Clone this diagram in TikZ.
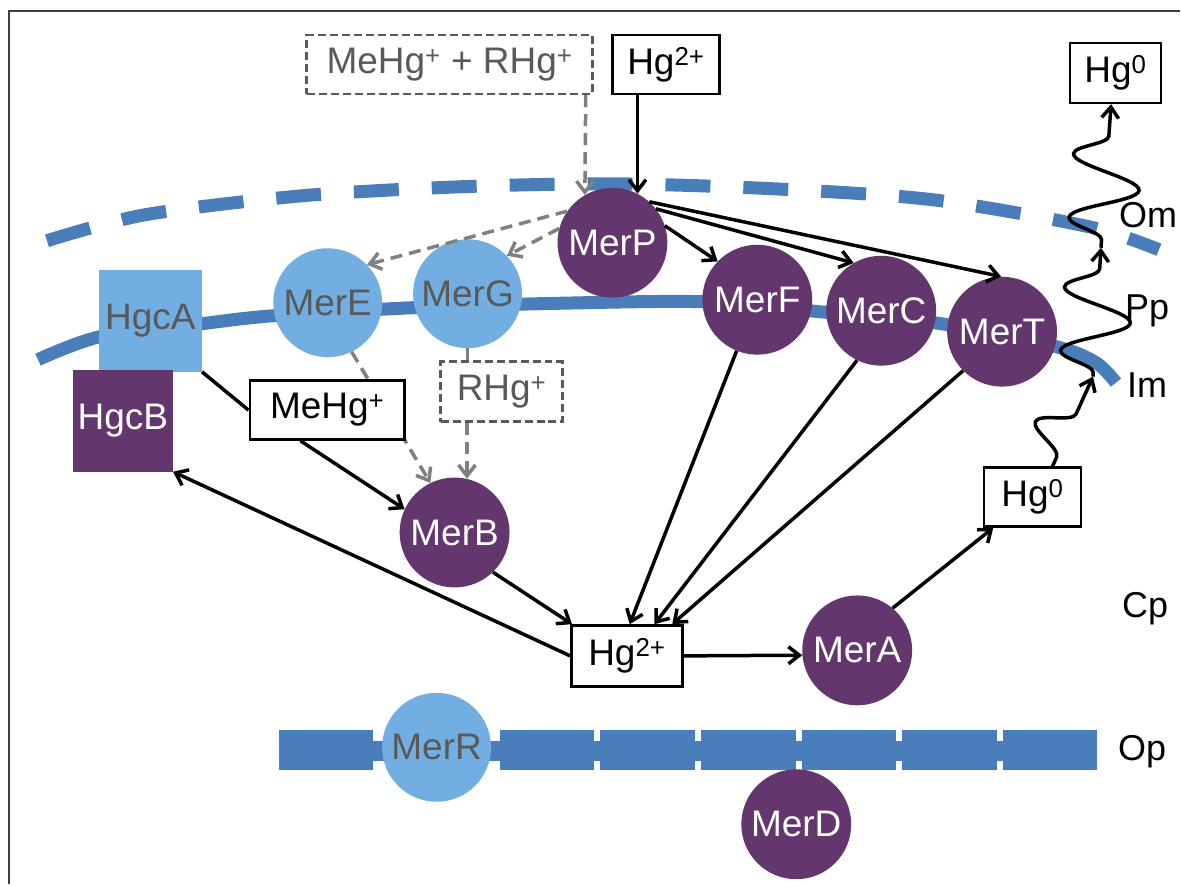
\documentclass[tikz,border=0pt]{standalone}
\usepackage{fontspec}
\setmainfont{Liberation Sans}
\usetikzlibrary{arrows.meta}
\usetikzlibrary{calc}
\usetikzlibrary{decorations.pathmorphing}
\definecolor{darkpurple}{RGB}{100,54,110}
\definecolor{lightblue}{RGB}{115,174,226}
\definecolor{memblue}{RGB}{74,126,187}
\definecolor{textgrey}{RGB}{89,89,89}
\definecolor{linegrey}{RGB}{128,128,128}
\tikzset{
  every node/.style={font=\fontsize{37}{40}\selectfont, inner sep=0},
  darkprot/.style={circle, fill=darkpurple, text=white, minimum size=110pt},
  lightprot/.style={circle, fill=lightblue, text=textgrey, minimum size=109pt},
  species/.style={draw=black, fill=white, line width=2.5pt, minimum height=59pt},
  dashspecies/.style={species, draw=textgrey, text=textgrey, dash pattern=on 8pt off 4pt},
  membrane/.style={draw=memblue, line width=13pt},
  arrow/.style={-{Straight Barb[length=11pt,width=17pt]}, line width=3.5pt},
  greyarrow/.style={arrow, draw=linegrey, dash pattern=on 12pt off 7pt},
  wiggle/.style={arrow, decorate, decoration={snake, amplitude=34pt, #1}},
  layer/.style={anchor=base west, font=\fontsize{36}{40}\selectfont}
}

\begin{document}
\begin{tikzpicture}[x=1pt, y=1pt]
  \fill[white] (0,0) rectangle (1181,885);
  \draw[line width=2.2pt, black!75] (9,0) -- (9,874) -- (1181,874);

  \draw[membrane, dash pattern=on 45pt off 33pt] plot[smooth] coordinates {(47,644) (145,670) (302,689) (460,698) (614,701) (775,696) (934,685) (1090,658) (1160,635)};
  \draw[membrane] plot[smooth] coordinates {(38,525) (100,548) (202,561) (274,569) (413,577) (540,581) (703,583) (820,573) (942,561) (1057,538) (1097,522) (1117,502)};
  \fill[memblue] (279,123) rectangle (1098,143);
  \foreach \a/\b in {279/373, 500/595, 601/696, 702/797, 803/897, 903/998, 1004/1098}
    \fill[memblue] (\a,114) rectangle (\b,154);

  \node[dashspecies, minimum width=286pt] (mix) at (450,820.5) {MeHg\textsuperscript{+} + RHg\textsuperscript{+}};
  \node[species, minimum width=107pt] (hgTop) at (666.5,820.5) {Hg\textsuperscript{2+}};
  \node[species, minimum width=91pt, minimum height=60pt] (hgOut) at (1116.5,812) {Hg\textsuperscript{0}};

  \node[darkprot] (MerP) at (613,642) {MerP};
  \node[lightprot] (MerE) at (328,582) {MerE};
  \node[lightprot] (MerG) at (468,591) {MerG};
  \node[darkprot] (MerF) at (758,585) {MerF};
  \node[darkprot] (MerC) at (882,574) {MerC};
  \node[darkprot] (MerT) at (1003,553) {MerT};
  \node[rectangle, fill=lightblue, text=textgrey, minimum width=103pt, minimum height=102pt] (HgcA) at (150.5,564) {HgcA};
  \node[rectangle, fill=darkpurple, text=white, minimum width=100pt, minimum height=102pt] (HgcB) at (123,464) {HgcB};
  \node[darkprot] (MerB) at (455,352) {MerB};
  \node[dashspecies, minimum width=122pt, minimum height=60pt] (RHg) at (502,493) {RHg\textsuperscript{+}};
  \node[species, minimum width=111pt, minimum height=61pt] (hgIn) at (627.5,228.5) {Hg\textsuperscript{2+}};
  \node[darkprot] (MerA) at (858,234) {MerA};
  \node[species, minimum width=97pt] (hgZero) at (1033.5,387.5) {Hg\textsuperscript{0}};
  \node[lightprot] (MerR) at (437,137) {MerR};
  \node[darkprot] (MerD) at (797,60) {MerD};

  \node[layer] (om) at (1120,657) {Om};
  \node[layer] (pp) at (1126,565) {Pp};
  \node[layer] (im) at (1128,487) {Im};
  \node[layer] (cp) at (1123,267) {Cp};
  \node[layer] (op) at (1119,124) {Op};

  \draw[greyarrow] (MerE.296) -- (MerB.116);
  \node[species, minimum width=155pt] (MeHg) at (327.5,474.5) {MeHg\textsuperscript{+}};

  \draw[greyarrow] ($(mix.south east)+(-8,0)$) -- (MerP.120);
  \draw[arrow] (hgTop.south -| MerP.63) -- (MerP.63);
  \draw[greyarrow] (MerP.145) -- (MerE.44);
  \draw[greyarrow] (MerP.165) -- (MerG.44);
  \draw[arrow] (MerP.18) -- (MerF.136);
  \draw[arrow] (MerP.38) -- (MerC.120);
  \draw[arrow] (MerP.48) -- (MerT.91);
  \draw[arrow] (MerF.248) -- (hgIn.85);
  \draw[arrow] (MerC.244) -- (hgIn.49);
  \draw[arrow] (MerT.225) -- (hgIn.35);
  \draw[line width=3.5pt] (HgcA.south east) -- (MeHg.west);
  \draw[arrow] (MeHg.229) -- (MerB.155);
  \draw[greyarrow, -] (MerG.south) -- (MerG.south |- RHg.north);
  \draw[greyarrow] (MerB.77 |- RHg.south) -- (MerB.77);
  \draw[arrow] (MerB.314) -- (hgIn.150);
  \draw[arrow] (hgIn.west) -- (HgcB.south east);
  \draw[arrow] (hgIn.east) -- (MerA.185);
  \draw[arrow] (MerA.50) -- (hgZero.218);

  \coordinate (imX) at (1094,508);
  \coordinate (omX) at (1102,637);
  \draw[wiggle={segment length=76pt, pre length=10pt, post length=13pt}] (hgZero.57) -- (imX);
  \draw[wiggle={segment length=64pt, pre length=4pt, post length=13pt}] (imX) -- (omX);
  \draw[wiggle={segment length=64pt, pre length=8pt, post length=14pt}] (omX) -- (hgOut.262);
\end{tikzpicture}
\end{document}
